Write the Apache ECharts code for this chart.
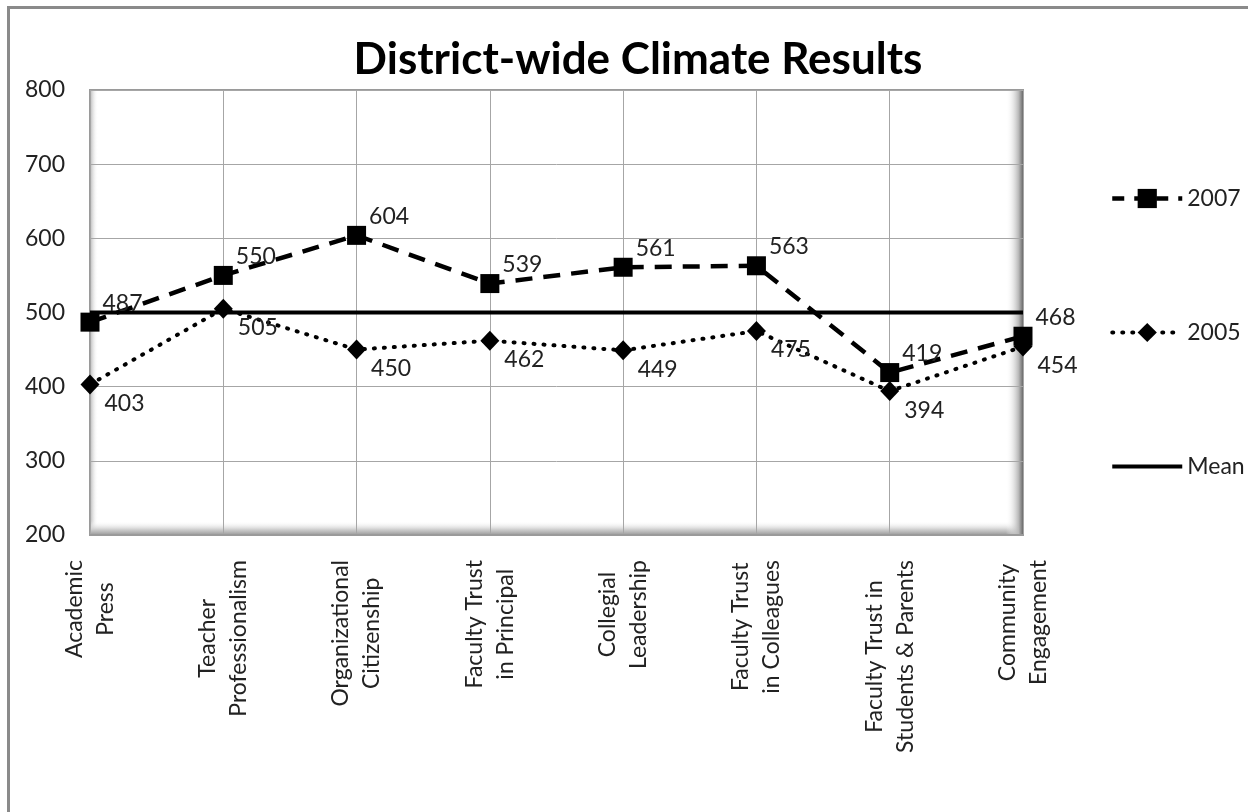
<!DOCTYPE html>
<html>
<head>
<meta charset="utf-8">
<title>District-wide Climate Results</title>
<script src="https://cdn.jsdelivr.net/npm/echarts@6/dist/echarts.min.js"></script>
<style>
  html, body { margin: 0; padding: 0; background: #fff; overflow: hidden; }
  #chart { width: 1248px; height: 812px; }
  #frame { position: absolute; left: 7px; top: 6px; width: 1400px; height: 1000px;
           border: 3px solid #8a8a8a; pointer-events: none; }
</style>
</head>
<body>
<div id="chart"></div>
<div id="frame"></div>
<script>
// categories on the x axis (line breaks as in the original)
var categories = [
    'Academic\nPress',
    'Teacher\nProfessionalism',
    'Organizational\nCitizenship',
    'Faculty Trust\nin Principal',
    'Collegial\nLeadership',
    'Faculty Trust\nin Colleagues',
    'Faculty Trust in\nStudents & Parents',
    'Community\nEngagement'
];
var values2007 = [487, 550, 604, 539, 561, 563, 419, 468];
var values2005 = [403, 505, 450, 462, 449, 475, 394, 454];
var meanValues = [500, 500, 500, 500, 500, 500, 500, 500];
var yTicks = { min: 200, max: 800, step: 100 };

var FONT = 'Lato';
var myChart = echarts.init(document.getElementById('chart'));

// label: each line centred inside the block, block anchored at the axis
function catLabel(v) {
    return v.split('\n').map(function (s) { return '{c|' + s + '}'; }).join('\n');
}

var option = {
    animation: false,
    backgroundColor: '#fff',
    textStyle: { fontFamily: FONT, color: '#222' },
    title: {
        text: 'District-wide Climate Results',
        left: 633,
        textAlign: 'center',
        top: 33,
        textStyle: { fontFamily: FONT, fontSize: 44, fontWeight: 'bold', color: '#000' }
    },
    legend: {
        orient: 'vertical',
        left: 1105,
        top: 182,
        itemWidth: 70,
        itemHeight: 24,
        itemGap: 111,
        textStyle: { fontFamily: FONT, fontSize: 23, color: '#222' },
        data: [
            { name: '2007', lineStyle: { width: 4.5, type: [12, 10] } },
            { name: '2005', lineStyle: { width: 4, type: [1, 9], cap: 'round' } },
            { name: 'Mean', itemStyle: { opacity: 0 }, lineStyle: { width: 4, color: '#000' } }
        ]
    },
    grid: {
        left: 90,
        right: 225,
        top: 90,
        bottom: 277,
        show: true,
        borderColor: '#9a9a9a',
        borderWidth: 2,
        backgroundColor: '#fff'
    },
    // 3D wall / floor shading of the plot area
    graphic: [
        {
            type: 'rect', z: 0, silent: true,
            shape: { x: 90, y: 90, width: 8, height: 445 },
            style: { fill: new echarts.graphic.LinearGradient(0, 0, 1, 0, [
                { offset: 0, color: '#b5b5b5' }, { offset: 1, color: 'rgba(255,255,255,0)' }]) }
        },
        {
            type: 'rect', z: 0, silent: true,
            shape: { x: 90, y: 521, width: 934, height: 14 },
            style: { fill: new echarts.graphic.LinearGradient(0, 0, 0, 1, [
                { offset: 0, color: 'rgba(255,255,255,0)' }, { offset: 0.6, color: '#d0d0d0' }, { offset: 1, color: '#9a9a9a' }]) }
        },
        {
            type: 'rect', z: 0, silent: true,
            shape: { x: 1006, y: 90, width: 18, height: 445 },
            style: { fill: new echarts.graphic.LinearGradient(0, 0, 1, 0, [
                { offset: 0, color: 'rgba(255,255,255,0)' }, { offset: 0.7, color: '#b8b8b8' }, { offset: 1, color: '#5a5a5a' }]) }
        }
    ],
    xAxis: {
        type: 'category',
        boundaryGap: false,
        data: categories,
        axisLine: { show: true, lineStyle: { color: '#9a9a9a', width: 2 } },
        axisTick: { show: false },
        splitLine: { show: true, lineStyle: { color: '#a6a6a6', width: 1 } },
        axisLabel: {
            rotate: 90,
            margin: 25,
            interval: 0,
            formatter: catLabel,
            rich: {
                c: { align: 'center', fontFamily: FONT, fontSize: 23, lineHeight: 31, color: '#222' }
            }
        }
    },
    yAxis: {
        type: 'value',
        min: yTicks.min,
        max: yTicks.max,
        interval: yTicks.step,
        axisLine: { show: false },
        axisTick: { show: false },
        splitLine: { show: true, lineStyle: { color: '#a6a6a6', width: 1 } },
        axisLabel: { margin: 25, fontFamily: FONT, fontSize: 23, color: '#222' }
    },
    series: [
        {
            name: '2007',
            type: 'line',
            data: values2007,
            z: 5,
            symbol: 'rect',
            symbolSize: 19,
            itemStyle: { color: '#000' },
            lineStyle: { color: '#000', width: 4.5, type: [17, 11] },
            label: {
                show: true, position: 'right', distance: 3, offset: [0, -19],
                fontFamily: FONT, fontSize: 23, color: '#222'
            }
        },
        {
            name: '2005',
            type: 'line',
            data: values2005,
            z: 4,
            symbol: 'diamond',
            symbolSize: [19, 20],
            itemStyle: { color: '#000' },
            lineStyle: { color: '#000', width: 4, type: [1, 9], cap: 'round' },
            label: {
                show: true, position: 'right', distance: 5, offset: [0, 19],
                fontFamily: FONT, fontSize: 23, color: '#222'
            }
        },
        {
            name: 'Mean',
            type: 'line',
            data: meanValues,
            z: 3,
            symbol: 'none',
            lineStyle: { color: '#000', width: 4 }
        }
    ]
};
myChart.setOption(option);
</script>
</body>
</html>
